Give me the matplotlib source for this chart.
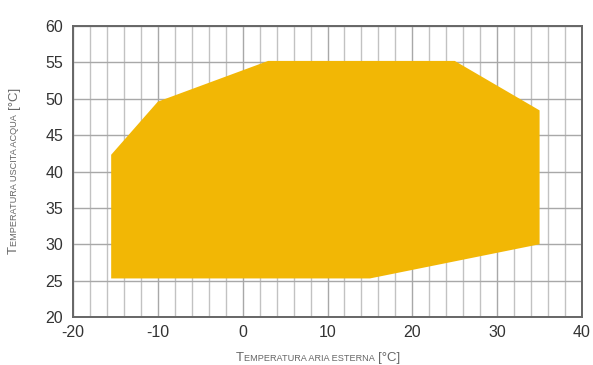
import matplotlib
matplotlib.use("Agg")
import matplotlib.pyplot as plt
from matplotlib.ticker import MultipleLocator

# Data: operating envelope (air temperature °C, water outlet temperature °C)
air_temp = [-15.5, -15.5, -10, 3, 25, 35, 35, 15, -15.5]
water_temp = [25.3, 42.3, 49.6, 55.2, 55.2, 48.4, 30.0, 25.3, 25.3]
x_ticks = [-20, -10, 0, 10, 20, 30, 40]
y_ticks = [20, 25, 30, 35, 40, 45, 50, 55, 60]

plt.rcParams['font.family'] = ['Liberation Sans', 'DejaVu Sans']
plt.rcParams['axes.unicode_minus'] = False

fig = plt.figure(figsize=(5.93, 3.65), dpi=100)
ax = fig.add_axes([73/593, 1-317/365, (582-73)/593, (317-26)/365])

ax.fill(air_temp, water_temp, color="#F2B705", zorder=3, linewidth=0)

ax.set_xlim(-20, 40)
ax.set_ylim(20, 60)
ax.set_xticks(x_ticks)
ax.set_yticks(y_ticks)
ax.xaxis.set_minor_locator(MultipleLocator(2))
ax.grid(which="major", color="#a8a8a8", linewidth=1.0, zorder=1)
ax.grid(which="minor", axis="x", color="#c2c2c2", linewidth=1.0, zorder=1)
ax.tick_params(which="both", length=0, labelsize=11.5, colors="#333333", pad=7)
ax.tick_params(axis="x", pad=6)
for s in ax.spines.values():
    s.set_color("#666666")
    s.set_linewidth(1.4)
    s.set_zorder(4)

# small-caps style labels
def smallcaps(parts, x, y, vertical=False):
    renderer = fig.canvas.get_renderer()
    texts = []
    for txt, size in parts:
        t = fig.text(x, y, txt, fontsize=size, color="#666666",
                     ha="left", va="baseline",
                     rotation=90 if vertical else 0, rotation_mode="anchor")
        texts.append(t)
    widths = []
    for t in texts:
        bb = t.get_window_extent(renderer)
        widths.append(bb.height if vertical else bb.width)
    total = sum(widths)
    pos = -total / 2
    W, H = fig.bbox.width, fig.bbox.height
    for t, w in zip(texts, widths):
        if vertical:
            t.set_position((x, y + pos / H))
        else:
            t.set_position((x + pos / W, y))
        pos += w

smallcaps([("T", 9.5), ("EMPERATURA ARIA ESTERNA", 6.6), (" ", 6.6), ("[°C]", 9.5)],
          318/593, 1-361/365)
smallcaps([("T", 9.5), ("EMPERATURA USCITA ACQUA", 6.6), ("_", 6.6), ("[°C]", 9.5)],
          17/593, 1-170/365, vertical=True)
for t in fig.texts:
    if t.get_text() == "_":
        t.set_alpha(0)

fig.savefig("out.png", dpi=100)
